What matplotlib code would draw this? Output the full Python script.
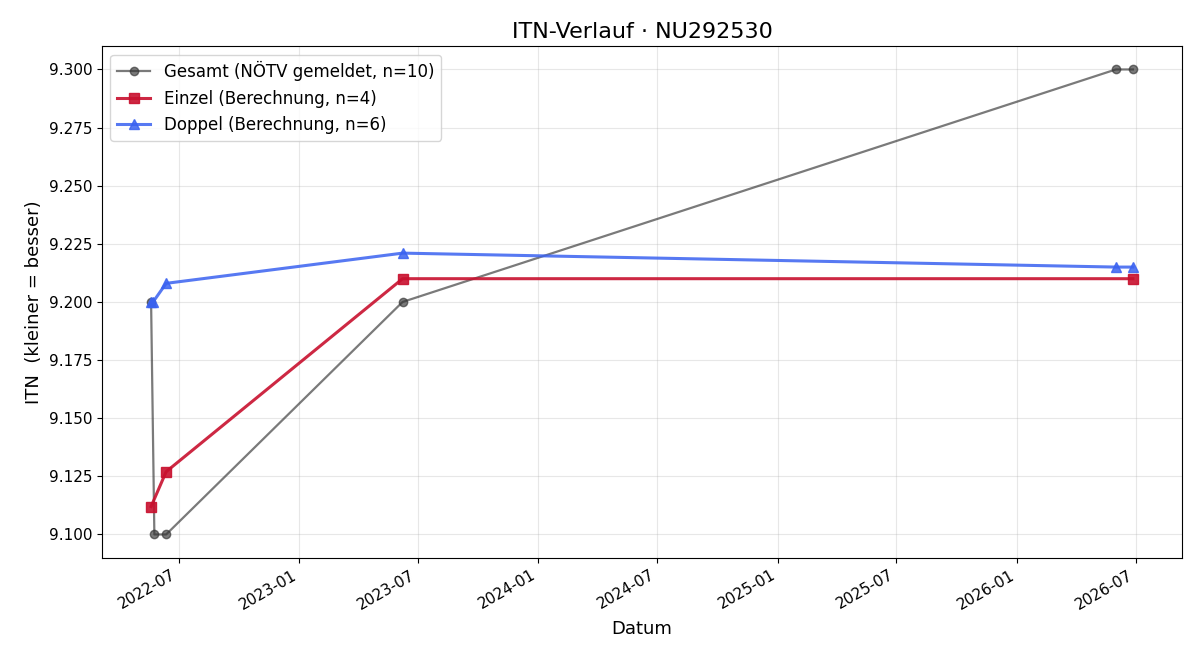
import matplotlib
matplotlib.use('Agg')
import matplotlib.pyplot as plt
import matplotlib.dates as mdates
import matplotlib.ticker as ticker
import pandas as pd

gesamt_dates = ['2022-05-20', '2022-05-25', '2022-06-12', '2023-06-08', '2026-06-01', '2026-06-27']
gesamt_itn = [9.200, 9.100, 9.100, 9.200, 9.300, 9.300]

einzel_dates = ['2022-05-20', '2022-06-12', '2023-06-08', '2026-06-27']
einzel_itn = [9.112, 9.127, 9.210, 9.210]

doppel_dates = ['2022-05-20', '2022-05-23', '2022-06-12', '2023-06-08', '2026-06-01', '2026-06-27']
doppel_itn = [9.200, 9.200, 9.208, 9.221, 9.215, 9.215]

fig, ax = plt.subplots(figsize=(12, 6.6), dpi=100)

ax.plot(pd.to_datetime(gesamt_dates), gesamt_itn, color='#333333', alpha=0.65,
        linewidth=1.6, marker='o', markersize=6, label='Gesamt (NÖTV gemeldet, n=10)')
ax.plot(pd.to_datetime(einzel_dates), einzel_itn, color='#c8102e', alpha=0.9,
        linewidth=2.2, marker='s', markersize=7, label='Einzel (Berechnung, n=4)')
ax.plot(pd.to_datetime(doppel_dates), doppel_itn, color='#3a62f0', alpha=0.85,
        linewidth=2.2, marker='^', markersize=7, label='Doppel (Berechnung, n=6)')

ax.set_title('ITN-Verlauf · NU292530', fontsize=16)
ax.set_xlabel('Datum', fontsize=13, labelpad=6)
ax.set_ylabel('ITN  (kleiner = besser)', fontsize=13)

ax.xaxis.set_major_locator(mdates.MonthLocator(bymonth=[1, 7]))
ax.xaxis.set_major_formatter(mdates.DateFormatter('%Y-%m'))
ax.yaxis.set_major_locator(ticker.MultipleLocator(0.025))
ax.yaxis.set_major_formatter(ticker.FormatStrFormatter('%.3f'))
ax.tick_params(labelsize=11)

ax.grid(True, alpha=0.3)
ax.legend(loc='upper left', fontsize=12)
fig.autofmt_xdate()

fig.subplots_adjust(left=0.085, right=0.985, top=0.93, bottom=0.155)
fig.savefig('out.png')
